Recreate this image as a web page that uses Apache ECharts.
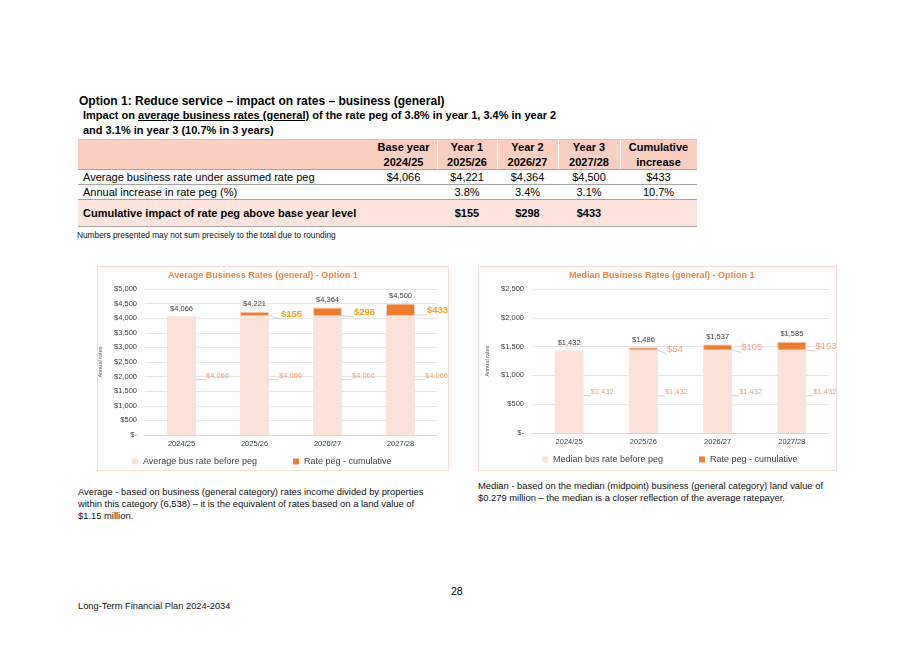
<!DOCTYPE html>
<html><head><meta charset="utf-8">
<script src="https://cdn.jsdelivr.net/npm/echarts@6/dist/echarts.min.js"></script>
<style>
html,body{margin:0;padding:0;background:#fff;width:915px;height:647px;overflow:hidden;font-family:'Liberation Sans',Arial,sans-serif;color:#000;}
.abs{position:absolute;white-space:nowrap;}
.chartbox{position:absolute;border:1px solid #FADDD3;box-sizing:border-box;}
.chart{position:absolute;}
.cell{position:absolute;box-sizing:border-box;white-space:nowrap;}
</style></head><body>
<div class="abs" style="left:79px;top:93px;font-size:12px;font-weight:bold;line-height:16px;">Option 1: Reduce service – impact on rates – business (general)</div>
<div class="abs" style="left:83px;top:108px;font-size:11px;font-weight:bold;line-height:14.5px;">Impact on <u>average business rates (general)</u> of the rate peg of 3.8% in year 1, 3.4% in year 2<br>and 3.1% in year 3 (10.7% in 3 years)</div>
<div id="tbl"></div>
<div class="abs" style="left:77px;top:230px;font-size:8.3px;line-height:11px;color:#111;">Numbers presented may not sum precisely to the total due to rounding</div>
<div class="chartbox" style="left:97px;top:266px;width:352px;height:205px;"></div>
<div class="chartbox" style="left:478px;top:266px;width:359px;height:205px;"></div>
<div id="c1" class="chart" style="left:97px;top:266px;width:372px;height:205px;"></div>
<div id="c2" class="chart" style="left:478px;top:266px;width:379px;height:205px;"></div>
<div class="abs" style="left:78px;top:486px;font-size:9.4px;line-height:12px;color:#111;">Average - based on business (general category) rates income divided by properties<br>within this category (6,538) – it is the equivalent of rates based on a land value of<br>$1.15 million.</div>
<div class="abs" style="left:478px;top:480px;font-size:9.4px;line-height:12px;color:#111;">Median - based on the median (midpoint) business (general category) land value of<br>$0.279 million – the median is a closer reflection of the average ratepayer.</div>
<div class="abs" style="left:451px;top:584px;font-size:10.5px;line-height:14px;">28</div>
<div class="abs" style="left:78px;top:600px;font-size:9.3px;line-height:12px;color:#111;">Long-Term Financial Plan 2024-2034</div>
<script>
// ---- table data ----
const tableCols = [['Base year','2024/25'],['Year 1','2025/26'],['Year 2','2026/27'],['Year 3','2027/28'],['Cumulative','increase']];
const rowLabels = ['Average business rate under assumed rate peg','Annual increase in rate peg (%)','Cumulative impact of rate peg above base year level'];
const rowAvgRate = ['$4,066','$4,221','$4,364','$4,500','$433'];
const rowPegPct = ['','3.8%','3.4%','3.1%','10.7%'];
const rowCumImpact = ['','$155','$298','$433',''];

// ---- chart data ----
const years = ['2024/25','2025/26','2026/27','2027/28'];
const avgBefore = [4066,4066,4066,4066];
const avgPeg = [0,155,298,433];
const avgTotal = [4066,4221,4364,4500];
const medBefore = [1432,1432,1432,1432];
const medPeg = [0,54,105,153];
const medTotal = [1432,1486,1537,1585];
const avgAxis = [0,5000,500];
const medAxis = [0,2500,500];

// ---- build table ----
(function(){
  const tbl = document.getElementById('tbl');
  const bounds = [78,370,437,497,558,620,697];
  const rows = [ {top:139,h:31,bg:'#FACEC1'}, {top:170,h:15,bg:'#fff'}, {top:185,h:15,bg:'#fff'}, {top:200,h:27,bg:'#FDE5DD'} ];
  let html = '';
  rows.forEach((r,i)=>{
    html += `<div class="cell" style="left:78px;top:${r.top}px;width:${697-78}px;height:${r.h}px;background:${r.bg};border-bottom:1px solid #A6A6A6;${i===0?'border-top:1px solid #C9C9C9;':''}"></div>`;
  });
  for(let c=2;c<bounds.length-1;c++){
    html += `<div class="cell" style="left:${bounds[c]}px;top:140px;width:1px;height:29px;background:#fff;"></div>`;
  }
  tableCols.forEach((h,i)=>{
    const l = bounds[i+1], w = bounds[i+2]-bounds[i+1];
    html += `<div class="cell" style="left:${l}px;top:140px;width:${w}px;text-align:center;font-size:11px;font-weight:bold;line-height:15px;">${h[0]}<br>${h[1]}</div>`;
  });
  const rowData = [rowAvgRate,rowPegPct,rowCumImpact];
  rowLabels.forEach((lab,ri)=>{
    const r = rows[ri+1];
    const bold = ri===2 ? 'font-weight:bold;' : '';
    html += `<div class="cell" style="left:83px;top:${r.top}px;height:${r.h}px;line-height:${r.h}px;font-size:11px;${bold}">${lab}</div>`;
    rowData[ri].forEach((v,ci)=>{
      const l = bounds[ci+1], w = bounds[ci+2]-bounds[ci+1];
      html += `<div class="cell" style="left:${l}px;top:${r.top}px;width:${w}px;height:${r.h}px;line-height:${r.h}px;text-align:center;font-size:11px;${bold}">${v}</div>`;
    });
  });
  tbl.innerHTML = html;
})();

const money = v => v === 0 ? '$-' : '$' + Number(v).toLocaleString('en-US');
const FONT = 'Liberation Sans, Arial, sans-serif';

function makeChart(id, o){
  const chart = echarts.init(document.getElementById(id), null, {renderer:'canvas'});
  chart.setOption({
    animation:false,
    textStyle:{fontFamily:FONT},
    title:{text:o.title,left:o.titleLeft,top:0,textStyle:{fontSize:9,fontWeight:'bold',color:'#EE8744',fontFamily:FONT}},
    legend:{
      left:o.legendLeft, top:o.legendTop, itemGap:o.legendGap, itemWidth:6, itemHeight:6, icon:'rect',
      textStyle:{fontSize:9,color:'#404040',fontFamily:FONT},
      data:[o.name1,{name:o.name2,itemStyle:{borderWidth:0}}]
    },
    grid:{left:o.gl,right:o.gr,top:23,bottom:o.gb,outerBoundsMode:'none'},
    xAxis:{type:'category',data:years,axisTick:{show:false},axisLine:{lineStyle:{color:'#D9D9D9'}},
      axisLabel:{fontSize:7.5,color:'#404040',margin:5}},
    yAxis:{type:'value',min:o.axis[0],max:o.axis[1],interval:o.axis[2],
      name:'Annual rates',nameLocation:'middle',nameRotate:90,nameGap:o.nameGap,
      nameTextStyle:{fontSize:5.5,color:'#595959'},
      axisLine:{show:false},axisTick:{show:false},
      splitLine:{lineStyle:{color:'#E6E6E6'}},
      axisLabel:{fontSize:7.5,color:'#404040',margin:8,formatter:money}},
    series:[
      {name:o.name1,type:'bar',stack:'s',barWidth:29,data:o.before,
        itemStyle:{color:'#FCE3DA'},
        label:{show:true,position:'right',distance:o.baseDist,fontSize:7.5,color:'#F4A06A',formatter:p=>money(p.value)},
        labelLine:{show:true,lineStyle:{color:'#C8C8C8',width:0.8}}},
      {name:o.name2,type:'bar',stack:'s',barWidth:29,data:o.peg.map(v=>v===0?'-':v),
        itemStyle:{color:'#ED7D31',borderColor:'#F9D3C4',borderWidth:1},
        label:{show:true,position:'right',distance:o.pegDist,fontSize:o.pegSize,fontWeight:o.pegWeight,color:o.pegColor,
          formatter:p=>(p.value && p.value!=='-')?money(p.value):''},
        labelLine:{show:true,lineStyle:{color:'#C8C8C8',width:0.8}}},
      {name:'total',type:'line',data:o.total,symbol:'circle',symbolSize:1,silent:true,
        itemStyle:{color:'rgba(0,0,0,0)'},lineStyle:{width:0,opacity:0},
        label:{show:true,position:'top',distance:3,fontSize:7.5,color:'#404040',formatter:p=>money(p.value)},z:5}
    ]
  });
}

makeChart('c1',{
  title:'Average Business Rates (general) - Option 1', titleLeft:66,
  name1:'Average bus rate before peg', name2:'Rate peg - cumulative',
  legendLeft:30, legendTop:186, legendGap:36,
  gl:48, gr:32, gb:36, nameGap:36, axis:avgAxis,
  before:avgBefore, peg:avgPeg, total:avgTotal,
  baseDist:10, pegDist:12, pegSize:9.5, pegWeight:'bold', pegColor:'#F9A11B'
});
makeChart('c2',{
  title:'Median Business Rates (general) - Option 1', titleLeft:86,
  name1:'Median bus rate before peg', name2:'Rate peg - cumulative',
  legendLeft:59, legendTop:184, legendGap:36,
  gl:54, gr:28, gb:38, nameGap:31, axis:medAxis,
  before:medBefore, peg:medPeg, total:medTotal,
  baseDist:7, pegDist:9, pegSize:9.5, pegWeight:'normal', pegColor:'#F6A189'
});
</script>
</body></html>
